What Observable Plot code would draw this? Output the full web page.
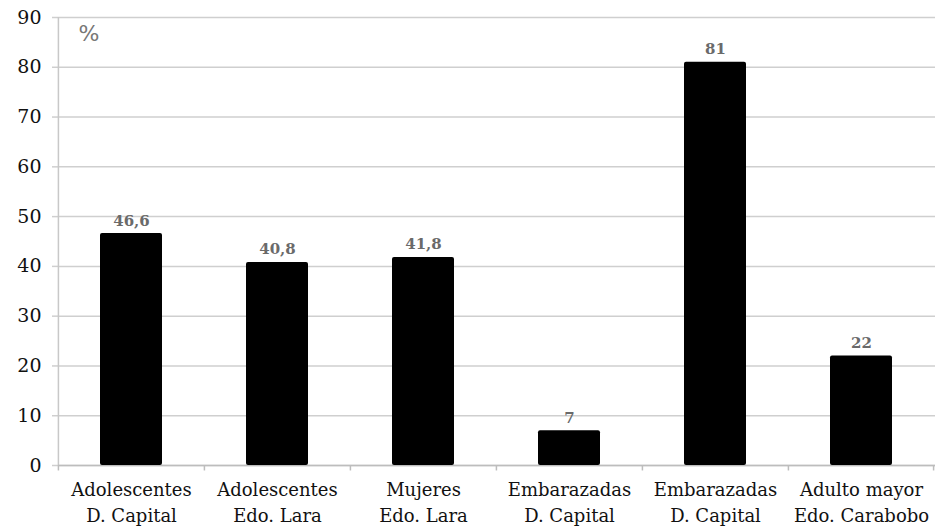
<!DOCTYPE html>
<html>
<head>
<meta charset="utf-8">
<script src="https://cdn.jsdelivr.net/npm/d3@7"></script>
<script src="https://cdn.jsdelivr.net/npm/@observablehq/plot@0.6"></script>
<style>
  html, body { margin: 0; padding: 0; background: #fff; }
  #chart svg { font-family: "DejaVu Serif", serif !important; }
  #chart svg g[aria-label="x-axis tick label"] { font-family: "DejaVu Serif", serif !important; }
</style>
</head>
<body>
<div id="chart"></div>
<script>
const categories = [
  "Adolescentes\nD. Capital",
  "Adolescentes\nEdo. Lara",
  "Mujeres\nEdo. Lara",
  "Embarazadas\nD. Capital",
  "Embarazadas\nD. Capital ",
  "Adulto mayor\nEdo. Carabobo"
];
const values = [46.6, 40.8, 41.8, 7, 81, 22];
const valueLabels = ["46,6", "40,8", "41,8", "7", "81", "22"];
const yTicks = [0, 10, 20, 30, 40, 50, 60, 70, 80, 90];
const unitLabel = "%";

const data = categories.map((c, i) => ({cat: c, value: values[i], label: valueLabels[i]}));

const W = 940, H = 527;
const mL = 58, mR = 5, mT = 17, mB = 62;
const step = (W - mL - mR) / categories.length;
const pInner = 0.575;
const serif = "DejaVu Serif";

const chart = Plot.plot({
  width: W,
  height: H,
  marginLeft: mL,
  marginRight: mR,
  marginTop: mT,
  marginBottom: mB,
  style: {background: "#fff"},
  x: {domain: categories, paddingInner: pInner, paddingOuter: pInner / 2, label: null},
  y: {domain: [0, 90], label: null},
  marks: [
    Plot.gridY(yTicks, {stroke: "#cfcfcf", strokeOpacity: 1, strokeWidth: 1.5}),
    Plot.axisY(yTicks, {tickSize: 6, stroke: "#cfcfcf", strokeWidth: 1.5, tickPadding: 11, fontSize: 19, fill: "#111", fontFamily: serif, label: null}),
    Plot.ruleX([categories[0]], {x: d => d, dx: -step / 2, y1: 0, y2: 90, stroke: "#c8c8c8", strokeWidth: 1.5}),
    Plot.ruleY([0], {stroke: "#bdbdbd", strokeWidth: 1.5}),
    Plot.ruleX(categories, {x: d => d, dx: -step / 2, y1: 0, y2: -1.1, stroke: "#bdbdbd", strokeWidth: 1.5}),
    Plot.ruleX([categories[categories.length - 1]], {x: d => d, dx: step / 2 - 1, y1: 0, y2: -1.1, stroke: "#bdbdbd", strokeWidth: 1.5}),
    Plot.barY(data, {x: "cat", y: "value", fill: "#000", rx: 2}),
    Plot.text(data, {x: "cat", y: "value", text: "label", lineAnchor: "bottom", dy: -8, fontSize: 15, fontWeight: "bold", fill: "#6a6a6a", fontFamily: serif}),
    Plot.axisX({tickSize: 0, tickPadding: 12, fontSize: 18, fill: "#111", lineHeight: 1.45, label: null, fontFamily: serif, tickFormat: d => d.trim()}),
    Plot.text([unitLabel], {frameAnchor: "top-left", dx: 20, dy: 8, lineAnchor: "top", textAnchor: "start", fontSize: 22, fill: "#777", fontFamily: "DejaVu Sans"})
  ]
});
document.getElementById("chart").appendChild(chart);
</script>
</body>
</html>
